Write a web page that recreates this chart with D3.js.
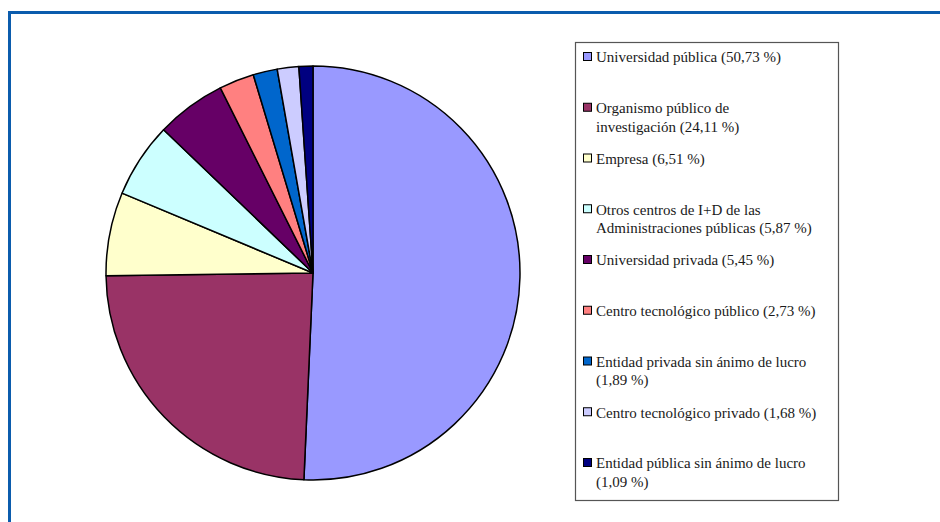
<!DOCTYPE html>
<html>
<head>
<meta charset="utf-8">
<script src="https://cdn.jsdelivr.net/npm/d3@7"></script>
<style>
  body { margin: 0; background: #fff; }
  svg { display: block; }
  .legend text { font-family: "Liberation Serif", "DejaVu Serif", "Times New Roman", serif; }
</style>
</head>
<body>
<div id="chart"></div>
<script>
// data
var categories = [
  "Universidad pública",
  "Organismo público de\ninvestigación",
  "Empresa",
  "Otros centros de I+D de las\nAdministraciones públicas",
  "Universidad privada",
  "Centro tecnológico público",
  "Entidad privada sin ánimo de lucro\n",
  "Centro tecnológico privado",
  "Entidad pública sin ánimo de lucro\n"
];
var values = [50.73, 24.11, 6.51, 5.87, 5.45, 2.73, 1.89, 1.68, 1.09];
var colors = ["#9999ff", "#993366", "#ffffcc", "#ccffff", "#660066",
              "#ff8080", "#0066cc", "#ccccff", "#000080"];

var width = 940, height = 522;
var cx = 313, cy = 273, radius = 207;

var svg = d3.select("#chart").append("svg")
  .attr("width", width)
  .attr("height", height);

// outer blue frame (top + left only)
svg.append("line")
  .attr("x1", 8).attr("x2", width).attr("y1", 12.5).attr("y2", 12.5)
  .attr("stroke", "#0b5cad").attr("stroke-width", 3);
svg.append("line")
  .attr("x1", 9.5).attr("x2", 9.5).attr("y1", 11).attr("y2", height)
  .attr("stroke", "#0b5cad").attr("stroke-width", 3);

var data = categories.map(function(c, i) { return {name: c, value: values[i], color: colors[i]}; });

var pie = d3.pie().sort(null).value(function(d) { return d.value; });
var arc = d3.arc().innerRadius(0).outerRadius(radius);

var g = svg.append("g")
  .attr("transform", "translate(" + cx + "," + cy + ")");

g.selectAll("path")
  .data(pie(data))
  .enter().append("path")
  .attr("d", arc)
  .attr("fill", function(d) { return d.data.color; })
  .attr("stroke", "#000")
  .attr("stroke-width", 1.5)
  .attr("stroke-linejoin", "round");

// legend
var lx = 575, ly = 42, lw = 263, lh = 458;
svg.append("rect")
  .attr("x", lx + 0.5).attr("y", ly + 0.5)
  .attr("width", lw).attr("height", lh)
  .attr("fill", "#fff")
  .attr("stroke", "#555").attr("stroke-width", 1.2);

var fmt = function(v) { return v.toFixed(2).replace(".", ","); };
var step = 50.75, lineH = 18.5;

var legend = svg.selectAll(".legend")
  .data(data)
  .enter().append("g")
  .attr("class", "legend")
  .attr("transform", function(d, i) { return "translate(" + (lx + 8) + "," + (ly + 15 + i * step) + ")"; });

legend.append("rect")
  .attr("x", 0.5).attr("y", -4.5)
  .attr("width", 8).attr("height", 8)
  .attr("fill", function(d) { return d.color; })
  .attr("stroke", "#000").attr("stroke-width", 1);

legend.append("text")
  .attr("x", 13)
  .attr("y", 0)
  .style("font-size", "15px")
  .attr("fill", "#1a1a1a")
  .each(function(d) {
    var lines = d.name.split("\n");
    var last = lines.length - 1;
    lines[last] = (lines[last] ? lines[last] + " " : "") + "(" + fmt(d.value) + " %)";
    var t = d3.select(this);
    lines.forEach(function(l, k) {
      t.append("tspan")
        .attr("x", 13)
        .attr("dy", k === 0 ? "0.35em" : lineH)
        .text(l);
    });
  });
</script>
</body>
</html>
